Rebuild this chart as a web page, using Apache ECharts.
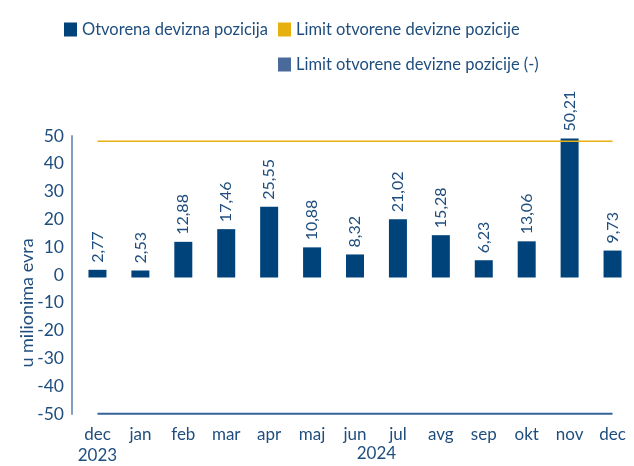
<!DOCTYPE html>
<html>
<head>
<meta charset="utf-8">
<script src="https://cdn.jsdelivr.net/npm/echarts@6/dist/echarts.min.js"></script>
<style>
  html, body { margin: 0; padding: 0; background: #fff; }
  #chart { width: 634px; height: 466px; }
</style>
</head>
<body>
<div id="chart"></div>
<script>
const months = ['dec', 'jan', 'feb', 'mar', 'apr', 'maj', 'jun', 'jul', 'avg', 'sep', 'okt', 'nov', 'dec'];
const years = ['2023', '2024'];
const positionValues = [2.77, 2.53, 12.88, 17.46, 25.55, 10.88, 8.32, 21.02, 15.28, 6.23, 13.06, 50.21, 9.73];
const limitValue = 49.2;
const limitUpper = months.map(() => limitValue);
const limitLower = months.map(() => -limitValue);
const yTicks = { min: -50, max: 50, interval: 10 };

const FONT = 'Lato';
const TEXT_COLOR = '#1f4e7e';

const chart = echarts.init(document.getElementById('chart'));

const legendText = { color: TEXT_COLOR, fontSize: 16.5, fontFamily: FONT };
const fmt = (v) => String(v.toFixed(2)).replace('.', ',');

chart.setOption({
  animation: false,
  legend: [
    { left: 59, top: 16, icon: 'rect', itemWidth: 13, itemHeight: 14, textStyle: legendText, data: ['Otvorena devizna pozicija'] },
    { left: 273, top: 16, icon: 'rect', itemWidth: 13, itemHeight: 14, textStyle: legendText, data: ['Limit otvorene devizne pozicije'] },
    { left: 273, top: 51, icon: 'rect', itemWidth: 13, itemHeight: 14, textStyle: legendText, data: ['Limit otvorene devizne pozicije (-)'] }
  ],
  grid: { left: 76, top: 136, width: 564, height: 281, containLabel: false },
  xAxis: {
    type: 'category',
    data: months,
    axisLine: { show: false },
    axisTick: { show: false },
    axisLabel: {
      interval: 0,
      color: TEXT_COLOR,
      fontSize: 17,
      fontFamily: FONT,
      margin: 10,
      lineHeight: 21,
      formatter: (val, i) => (i === 0 ? `${val}\n${years[0]}` : val)
    }
  },
  yAxis: [{
    type: 'value',
    min: yTicks.min,
    max: yTicks.max,
    interval: yTicks.interval,
    offset: 4,
    name: 'u milionima evra',
    nameLocation: 'middle',
    nameGap: 36,
    nameMoveOverlap: false,
    nameTextStyle: { color: TEXT_COLOR, fontSize: 18, fontFamily: FONT, padding: [0, 56, 0, 0] },
    axisLine: { show: true, lineStyle: { color: '#7f9fc2', width: 2 } },
    axisTick: { show: false },
    splitLine: { show: false },
    axisLabel: { color: TEXT_COLOR, fontSize: 17.5, fontFamily: FONT, margin: 8 }
  }, {
    // secondary scale for the bars and limits (slightly shifted, as in the source)
    type: 'value',
    min: -49.3,
    max: 51.1,
    show: false
  }],
  series: [
    {
      name: 'Otvorena devizna pozicija',
      type: 'bar',
      yAxisIndex: 1,
      barWidth: 18,
      data: positionValues,
      itemStyle: { color: '#00437a' },
      label: {
        show: true,
        position: 'top',
        rotate: 90,
        align: 'left',
        verticalAlign: 'middle',
        distance: 7,
        color: TEXT_COLOR,
        fontSize: 16,
        fontFamily: FONT,
        formatter: (p) => fmt(p.value)
      }
    },
    {
      name: 'Limit otvorene devizne pozicije',
      type: 'line',
      yAxisIndex: 1,
      data: limitUpper,
      symbol: 'none',
      itemStyle: { color: '#e6b010' },
      lineStyle: { color: '#e6b010', width: 1.5 }
    },
    {
      name: 'Limit otvorene devizne pozicije (-)',
      type: 'line',
      yAxisIndex: 1,
      data: limitLower,
      symbol: 'none',
      itemStyle: { color: '#4a6a9c' },
      lineStyle: { color: '#33649a', width: 2 }
    }
  ]
});

// year label under the 2024 months, centred by the axis scale
const x1 = chart.convertToPixel({ xAxisIndex: 0 }, 1);
const x2 = chart.convertToPixel({ xAxisIndex: 0 }, months.length - 1);
const yBase = chart.convertToPixel({ yAxisIndex: 0 }, yTicks.min);
chart.setOption({
  graphic: [{
    type: 'text',
    x: (x1 + x2) / 2,
    y: yBase + 31,
    style: {
      text: years[1],
      fill: TEXT_COLOR,
      font: `17px ${FONT}`,
      align: 'center',
      verticalAlign: 'top'
    }
  }]
});
</script>
</body>
</html>
